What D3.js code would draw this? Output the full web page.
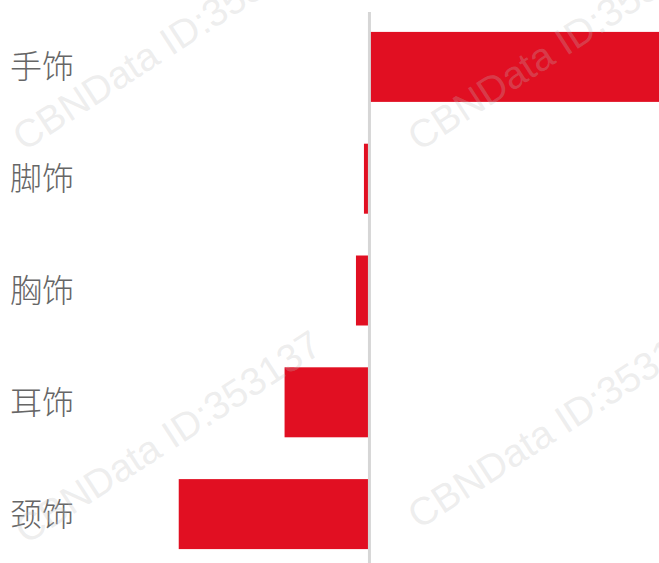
<!DOCTYPE html>
<html>
<head>
<meta charset="utf-8">
<script src="https://cdn.jsdelivr.net/npm/d3@7"></script>
<style>
  html, body { margin: 0; padding: 0; background: #fff; }
  svg { display: block; }
</style>
</head>
<body>
<div id="chart"></div>
<script>
// Categories (top to bottom) and their diverging values
const categories = ["手饰", "脚饰", "胸饰", "耳饰", "颈饰"];
const values = [29, -0.55, -1.35, -8.5, -19.1];
const watermarkText = "CBNData ID:353137";

const width = 659, height = 563;

const svg = d3.select("#chart").append("svg")
  .attr("width", width)
  .attr("height", height);

const x = d3.scaleLinear()
  .domain([-37, 29])
  .range([0, width]);

const y = d3.scaleBand()
  .domain(categories)
  .range([11, 570])
  .paddingInner(0.374)
  .paddingOuter(0.187);

const data = categories.map((c, i) => ({ cat: c, value: values[i] }));

// Bars
svg.append("g").selectAll("rect")
  .data(data)
  .join("rect")
  .attr("x", d => x(Math.min(0, d.value)))
  .attr("y", d => y(d.cat))
  .attr("width", d => Math.abs(x(d.value) - x(0)))
  .attr("height", y.bandwidth())
  .attr("fill", "#e10f22");

// Zero baseline
svg.append("line")
  .attr("x1", x(0)).attr("x2", x(0))
  .attr("y1", 12).attr("y2", height)
  .attr("stroke", "#d6d6d6")
  .attr("stroke-width", 3);

// Category labels
svg.append("g").selectAll("text")
  .data(categories)
  .join("text")
  .attr("x", 10)
  .attr("y", d => y(d) + y.bandwidth() / 2)
  .attr("dy", "0.36em")
  .attr("font-family", "'Noto Sans CJK SC', 'Noto Sans', sans-serif")
  .attr("font-size", 32)
  .attr("font-weight", 300)
  .attr("fill", "#666")
  .text(d => d);

// Repeating watermark
const marks = [[24, 152], [419, 152], [26, 545], [419, 530]];
svg.append("g").attr("pointer-events", "none").selectAll("text")
  .data(marks)
  .join("text")
  .attr("transform", d => `translate(${d[0]},${d[1]}) rotate(-33)`)
  .attr("font-family", "'Liberation Sans', Arial, sans-serif")
  .attr("font-size", 39)
  .attr("fill", "rgba(190,190,190,0.27)")
  .text(watermarkText);
</script>
</body>
</html>
